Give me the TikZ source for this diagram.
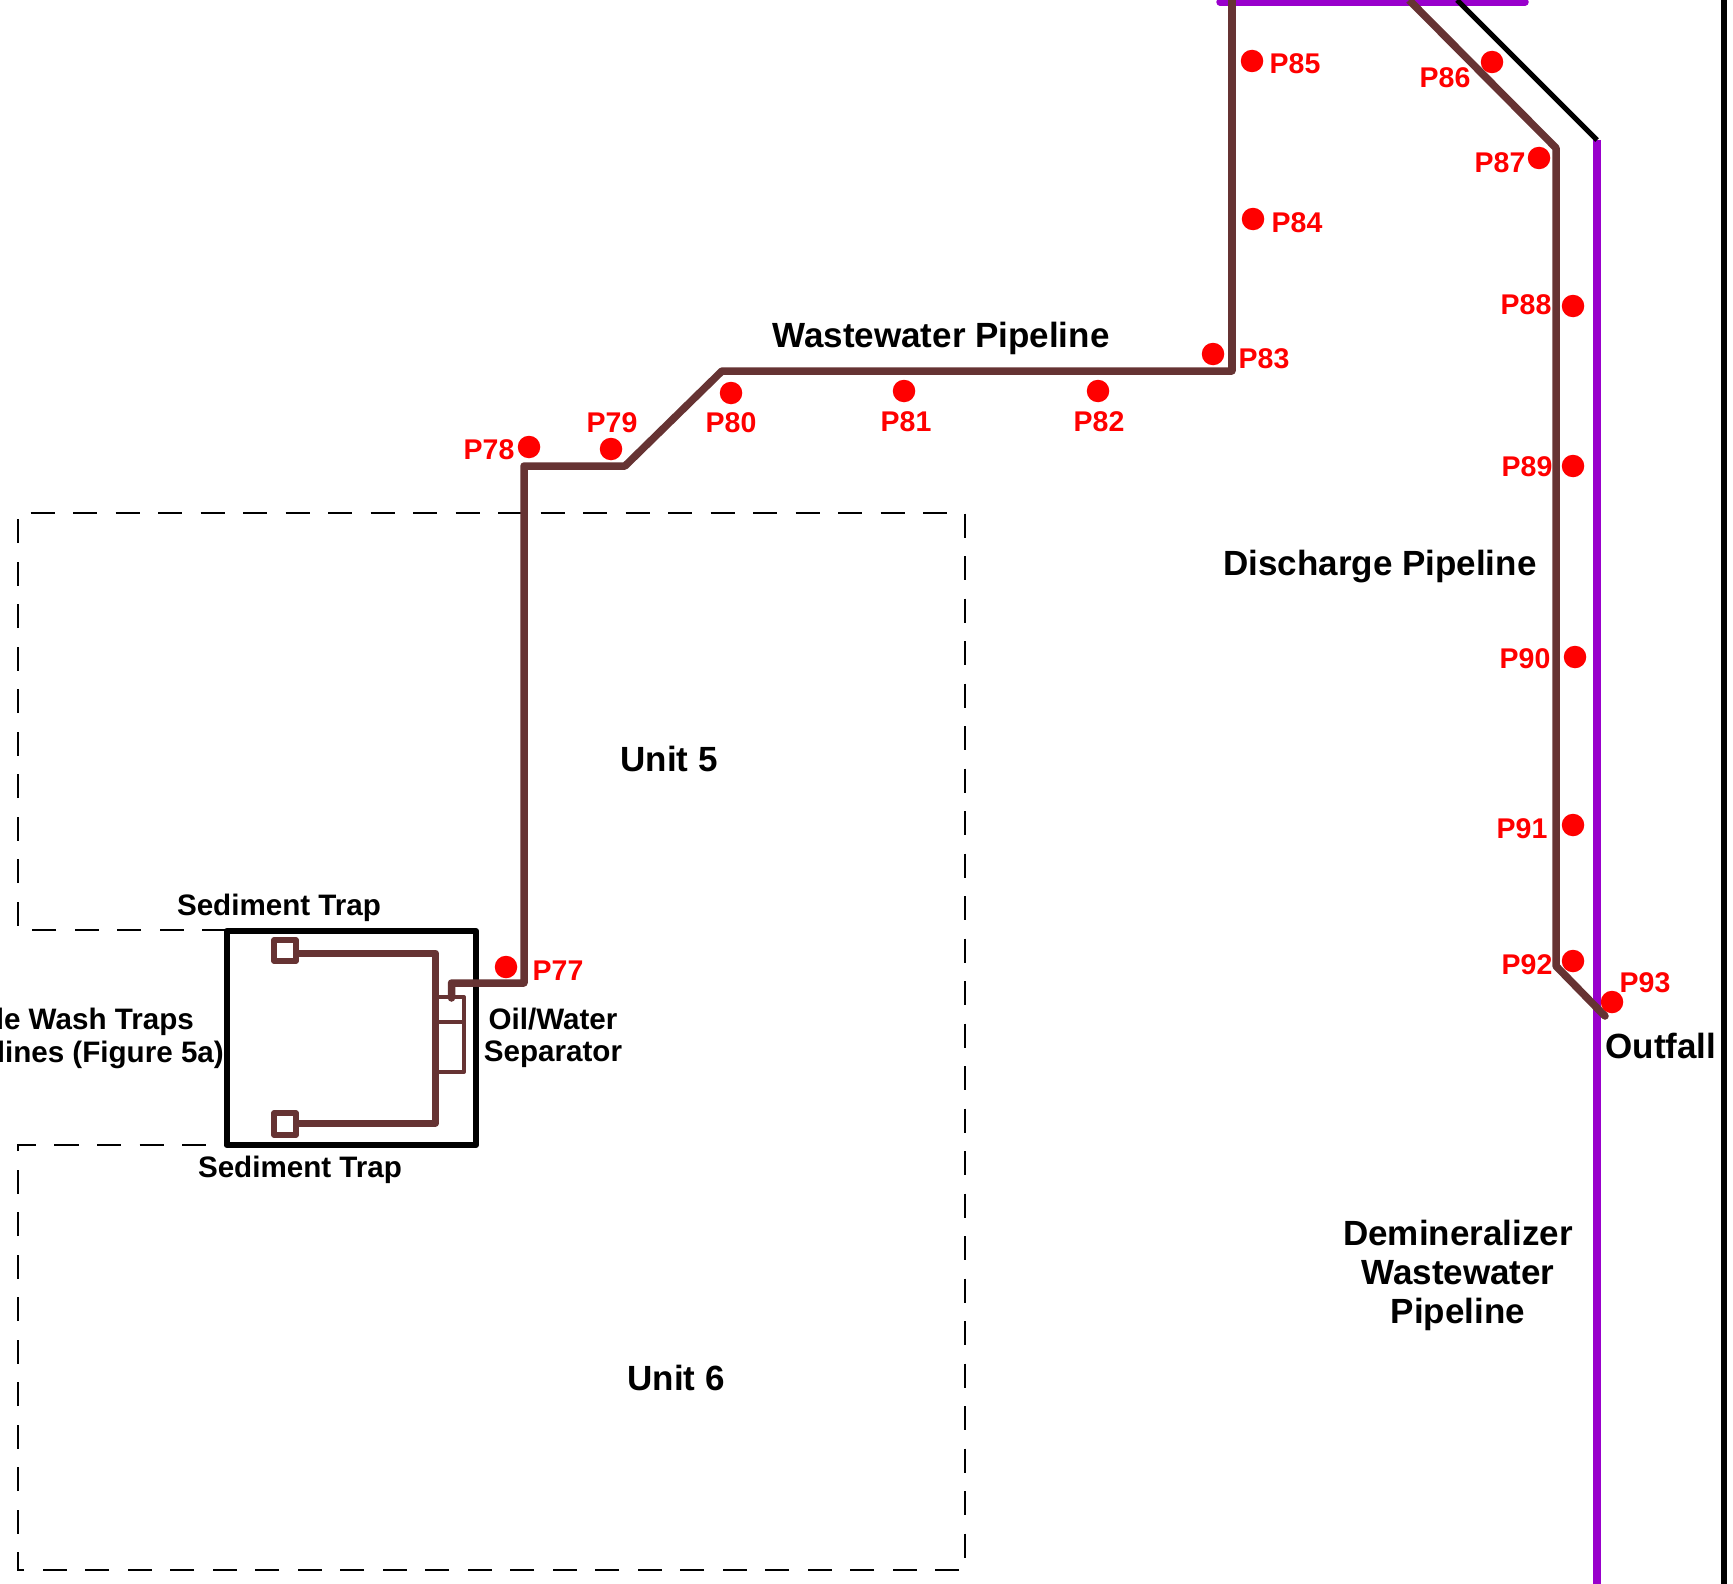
\documentclass[tikz,border=0pt]{standalone}
\usepackage{fontspec}
\setmainfont{Liberation Sans}
\definecolor{Pipe}{HTML}{663333}
\definecolor{Demin}{HTML}{9900CC}
\definecolor{Sample}{HTML}{FF0000}
\tikzset{
    pipeline/.style={draw=Pipe, line width=7.5pt, line join=round, line cap=round},
    trap/.style={draw=Pipe, line width=7pt, line join=round},
    trapbox/.style={draw=Pipe, line width=5.5pt, line join=round},
    demin/.style={draw=Demin, line width=7.5pt, line cap=round},
    wall/.style={draw=black, line width=6pt, line join=round},
    sampledot/.style={circle, fill=Sample, inner sep=0pt, minimum size=22.5pt},
    samplelabel/.style={text=Sample, font=\bfseries\fontsize{28.5}{28.5}\selectfont, inner sep=0pt},
    biglabel/.style={font=\bfseries\fontsize{35}{39}\selectfont, align=center, inner sep=0pt},
    smalllabel/.style={font=\bfseries\fontsize{29.6}{32}\selectfont, align=center, inner sep=0pt},
}
\begin{document}
\begin{tikzpicture}[x=1pt, y=-1pt]
    \useasboundingbox (0,0) rectangle (1733,1584);

    % --- Unit outlines ---
    \draw[line width=2.2pt, dash pattern=on 24pt off 18.5pt] (226,930) -- (18,930) -- (18,513) -- (965,513) -- (965,1570) -- (18,1570) -- (18,1145) -- (226,1145);

    % --- Sediment trap box ---
    \draw[wall] (226.5,931) rectangle (476,1145);
    \draw[trapbox] (274,940) rectangle (296,961);
    \draw[trapbox] (274,1113) rectangle (296,1135);
    \draw[trap] (296,953) -- (435.5,953) -- (435.5,1123) -- (296,1123);
    % Separatore
    \draw[draw=Pipe, line width=4pt, line join=round] (437,997) -- (464,997) -- (464,1072) -- (437,1072);
    \draw[draw=Pipe, line width=4pt] (437,1022) -- (464,1022);

    % --- Pipelines ---
    \draw[demin] (1220,2) -- (1525,2);
    \draw[demin, line cap=butt] (1597,140) -- (1597,1584);
    \draw[draw=black, line width=5pt] (1457,0) -- (1597,140);
    \draw[pipeline, line cap=butt] (1232,0) -- (1232,371);
    \draw[pipeline] (1232,371) -- (722,371) -- (625,466) -- (524,466) -- (524,983) -- (451.5,983) -- (451.5,998);
    \draw[pipeline, line cap=butt] (1409,0) -- (1556,148) -- (1556,966) -- (1597,1008);
    \draw[pipeline] (1597,1008) -- (1605,1016);
    \draw[draw=black, line width=6pt] (1724,0) -- (1724,1584);

    % --- Sample points ---
    \foreach \n/\x/\y/\lx/\ly in {
        P77/506/967/558/971, P78/529/447/489/450, P79/611/449/612/423,
        P80/731/393/731/423, P81/904/391/906/422, P82/1098/391/1099/422,
        P83/1213/354/1264/359, P84/1253/219/1297/223, P85/1252/61/1295/64,
        P86/1492/62/1445/78, P87/1539/158/1500/163, P88/1573/306/1526/305,
        P89/1573/466/1527/467, P90/1575/657/1525/659, P91/1573/825/1522/829,
        P92/1573/961/1527/965, P93/1612/1002/1645/983} {
        \node[sampledot] (\n) at (\x,\y) {};
        \node[samplelabel] (\n-label) at (\lx,\ly) {\n};
    }

    % --- Labels ---
    \node[biglabel] (wastewater) at (941,338) {Wastewater Pipeline};
    \node[biglabel] (discharge) at (1380,567) {Discharge Pipeline};
    \node[biglabel] (unit5) at (669,759) {Unit 5};
    \node[biglabel] (unit6) at (676,1378) {Unit 6};
    \node[biglabel] (demineralizer) at (1458,1275) {Demineralizer\\Wastewater\\Pipeline};
    \node[biglabel] (outfall) at (1661,1046) {Outfall};
    \node[smalllabel] (trap-top) at (279,908) {Sediment Trap};
    \node[smalllabel] (trap-bottom) at (300,1170) {Sediment Trap};
    \node[smalllabel] (separator) at (553,1038) {Oil/Water\\Separator};
    \node[smalllabel, anchor=east] (wash) at (194,1022) {le Wash Traps};
    \node[smalllabel, anchor=east] (lines) at (224,1055) {lines (Figure 5a)};
\end{tikzpicture}
\end{document}
